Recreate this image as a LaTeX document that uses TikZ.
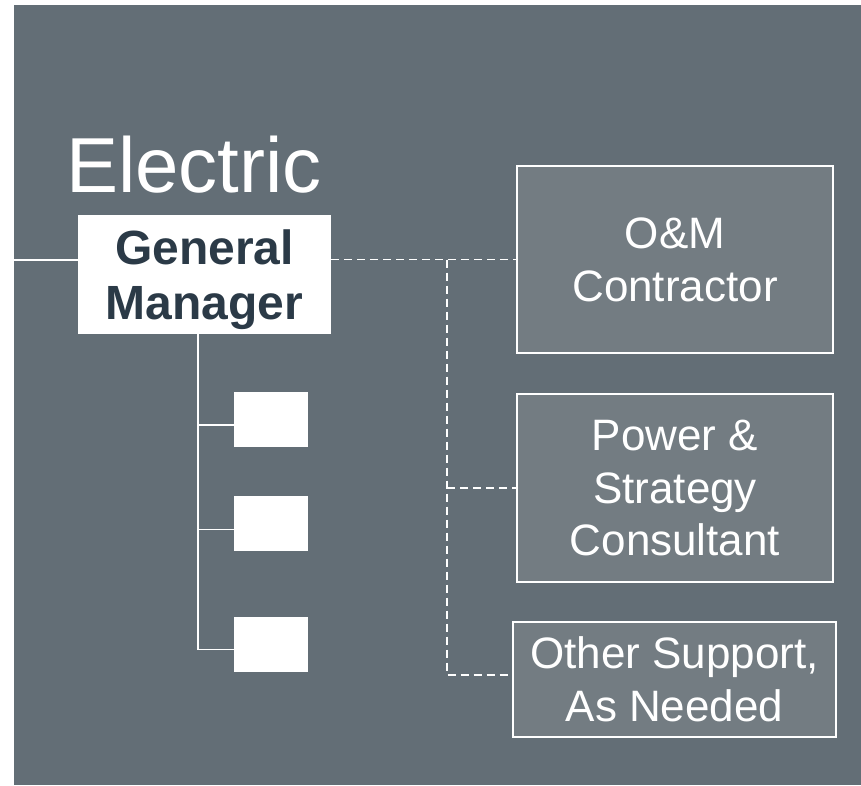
\documentclass[tikz,border=0pt]{standalone}
\usepackage{fontspec}
\setmainfont{Liberation Sans}
\usetikzlibrary{positioning}

\definecolor{slate}{HTML}{636E76}
\definecolor{slatelt}{HTML}{737C82}
\definecolor{navy}{HTML}{2B3A47}

\begin{document}
\begin{tikzpicture}[x=1pt, y=-1pt,
	head/.style={rectangle, fill=white, text=navy, inner sep=0pt, minimum width=253pt, minimum height=119pt, align=center, text depth=0pt, font=\fontsize{48}{55}\selectfont\bfseries},
	staff/.style={rectangle, fill=white, inner sep=0pt, minimum width=74pt, minimum height=55pt},
	advisor/.style={rectangle, draw=white, line width=1.6pt, fill=slatelt, text=white, inner sep=0pt, align=center, font=\fontsize{44}{53}\selectfont},
	solidline/.style={white, line width=1.6pt},
	dashline/.style={white, line width=1.6pt, dash pattern=on 8pt off 5pt}
	]
	\useasboundingbox (0,0) rectangle (861,785);
	\fill [white] (0,0) rectangle (861,785);
	\fill [slate] (14,5) rectangle (861,785);

		\node (title) [anchor=base west, text=white, inner sep=0pt, font=\fontsize{78}{90}\selectfont] at (66,192) {Electric};
		\node (gm) [head] at (204.5,274.5) {General\\Manager};
			\node (staffa) [staff] at (271,419.5) {};
			\node (staffb) [staff, below=49pt of staffa] {};
			\node (staffc) [staff, below=65pt of staffb] {};
		\node (om) [advisor, minimum width=316pt, minimum height=187pt] at (675,259.5) {O\&M\\Contractor};
		\node (pwr) [advisor, minimum width=316pt, minimum height=188pt, font=\fontsize{44}{52.5}\selectfont] at (675,488) {Power \&\\Strategy\\Consultant};
		\node (oth) [advisor, minimum width=323pt, minimum height=115pt] at (674.5,679.5) {Other Support,\\As Needed};

	\coordinate (board) at (14,260);
	\coordinate (spine) at ([xshift=-6.5pt]gm.south);
	\coordinate (fork) at (447,259.5);

	% solid reporting lines
	\draw [solidline] (board) -- (board -| gm.west);
	\draw [solidline] (spine) |- ([yshift=-5pt]staffc.west);
	\foreach \s in {staffa,staffb}{
		\coordinate (tap\s) at (spine |- \s.west);
		\draw [solidline] ([yshift=-5.5pt]tap\s) -- ([yshift=-5.5pt]\s.west);
	}

	% dashed contract lines
	\draw [dashline] (gm.east |- om.west) -- (om.west);
	\draw [dashline] (fork) |- ([yshift=4.5pt]oth.west);
	\draw [dashline] (fork |- pwr.west) -- (pwr.west);

\end{tikzpicture}
\end{document}
